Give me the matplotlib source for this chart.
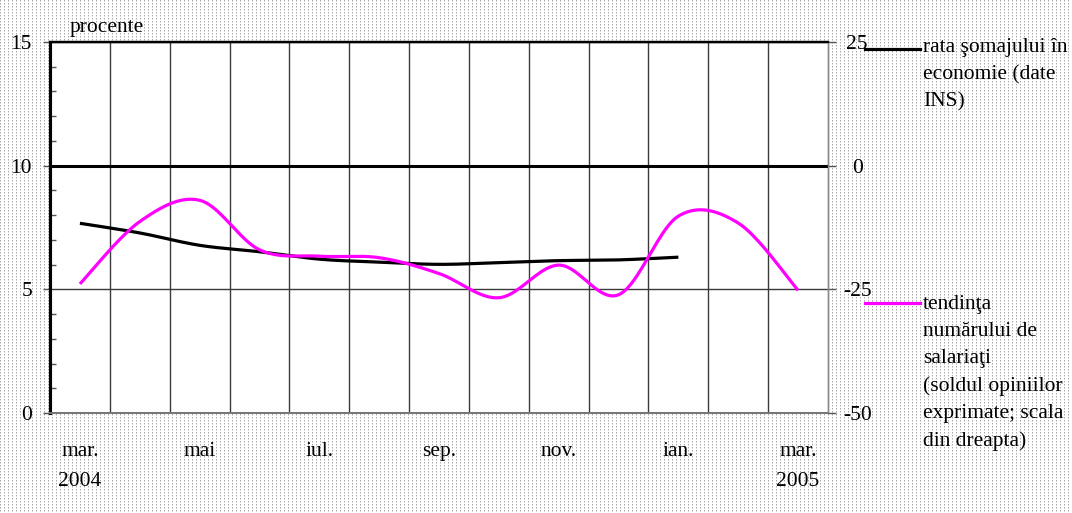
import numpy as np
import matplotlib
matplotlib.use('Agg')
import matplotlib.pyplot as plt
from matplotlib.lines import Line2D

plt.rcParams['font.family'] = ['Liberation Serif', 'DejaVu Serif']

# ── Data ──────────────────────────────────────────────────────────────────────
months = ['mar.', 'apr.', 'mai', 'iun.', 'iul.', 'aug.', 'sep.', 'oct.',
          'nov.', 'dec.', 'ian.', 'feb.', 'mar.']
tick_labels = ['mar.\n2004', '', 'mai', '', 'iul.', '', 'sep.', '', 'nov.', '',
               'ian.', '', 'mar.\n2005']
# unemployment rate (left scale, %), mar. 2004 - ian. 2005
unemp = [7.67, 7.28, 6.78, 6.52, 6.22, 6.10, 6.01, 6.08, 6.16, 6.19, 6.30]
# employment expectations balance (right scale), mar. 2004 - mar. 2005
employ = [-23.9, -11.3, -7.0, -17.0, -18.3, -18.6, -21.8, -26.7, -20.1,
          -26.1, -10.2, -11.6, -25.2]

left_ticks = [0, 5, 10, 15]
right_ticks = [-50, -25, 0, 25]

label_unemp = 'rata şomajului în\neconomie (date\nINS)'
label_employ = ('tendinţa\nnumărului de\nsalariaţi\n(soldul opiniilor\n'
                'exprimate; scala\ndin dreapta)')

MAGENTA = '#FF00FF'
FS = 15.5


def smooth(y, n=24):
    # Excel-style smoothed line (Catmull-Rom / Bezier through the points)
    y = np.asarray(y, float)
    x = np.arange(len(y), dtype=float)
    px = np.concatenate([[x[0]], x, [x[-1]]])
    py = np.concatenate([[y[0]], y, [y[-1]]])
    t = np.linspace(0, 1, n)[:, None]
    xs, ys = [], []
    for i in range(1, len(px) - 2):
        p0 = np.array([px[i - 1], py[i - 1]])
        p1 = np.array([px[i], py[i]])
        p2 = np.array([px[i + 1], py[i + 1]])
        p3 = np.array([px[i + 2], py[i + 2]])
        c1 = p1 + (p2 - p0) / 6
        c2 = p2 - (p3 - p1) / 6
        b = ((1 - t) ** 3 * p1 + 3 * (1 - t) ** 2 * t * c1
             + 3 * (1 - t) * t ** 2 * c2 + t ** 3 * p2)
        xs.append(b[:, 0]); ys.append(b[:, 1])
    return np.concatenate(xs), np.concatenate(ys)


W, H = 1072, 513
fig = plt.figure(figsize=(W / 100, H / 100), dpi=100)
fig.patch.set_facecolor('white')

# dotted background texture
bg = np.ones((H, W))
yy, xx = np.mgrid[0:H, 0:W]
bg[(xx % 4 == 0) & (yy % 3 == 0)] = 0.66
bg[(xx % 4 == 0) & (yy % 3 == 1)] = 0.84
fig.figimage(bg, cmap='gray', vmin=0, vmax=1, zorder=-10)

ax = fig.add_axes([50 / W, 1 - 413 / H, 778 / W, 371 / H])
ax.set_facecolor('white')
ax2 = ax.twinx()

n = len(months)
ax.set_xlim(-0.5, n - 0.5)
ax.set_ylim(0, 15)
ax2.set_ylim(-50, 25)

# category boundaries -> vertical grid
ax.set_xticks(np.arange(-0.5, n - 0.5, 1.0))
ax.set_xticklabels([])
ax.tick_params(axis='x', which='major', length=0)
ax.set_xticks(np.arange(n), minor=True)
ax.set_xticklabels(tick_labels, minor=True, fontsize=FS, linespacing=1.75)
ax.tick_params(axis='x', which='minor', length=0, pad=21)
ax.grid(True, axis='x', which='major', color='#3a3a3a', lw=1.0)

ax.set_yticks(left_ticks)
ax.set_yticklabels([str(v) for v in left_ticks], fontsize=FS)
ax.set_yticks(np.arange(0, 16, 1), minor=True)
ax.tick_params(axis='y', which='major', direction='out', length=5, width=1,
               color='#555555', pad=8)
ax.tick_params(axis='y', which='minor', direction='in', length=4, width=1,
               color='#555555')
ax.grid(True, axis='y', which='major', color='#3a3a3a', lw=1.0)
ax.axhline(10, color='black', lw=2.2, zorder=3)

ax2.set_yticks(right_ticks)
ax2.set_yticklabels([str(v) for v in right_ticks], fontsize=FS)
ax2.tick_params(axis='y', direction='out', length=6, width=1,
                color='#555555', pad=15)
for lab in ax2.get_yticklabels():
    lab.set_horizontalalignment('center')

for a in (ax, ax2):
    a.spines['left'].set_linewidth(2.2)
    a.spines['left'].set_color('black')
    a.spines['top'].set_linewidth(1.6)
    a.spines['top'].set_color('black')
    a.spines['bottom'].set_linewidth(1.4)
    a.spines['bottom'].set_color('#777777')
    a.spines['right'].set_linewidth(1.0)
    a.spines['right'].set_color('#888888')

xs, ys = smooth(unemp)
ax.plot(xs, ys, color='black', lw=2.3, solid_capstyle='butt', zorder=4)
xs, ys = smooth(employ)
ax2.plot(xs, ys, color=MAGENTA, lw=2.3, solid_capstyle='butt', zorder=4)

fig.text(70 / W, 1 - 32 / H, 'procente', fontsize=FS, va='baseline')

# legend at the right
fig.add_artist(Line2D([865 / W, 920 / W], [1 - 49 / H, 1 - 49 / H],
                      color='black', lw=2.3))
fig.text(923 / W, 1 - 38 / H, label_unemp, fontsize=FS, va='top',
         linespacing=1.55)
fig.add_artist(Line2D([865 / W, 920 / W], [1 - 303 / H, 1 - 303 / H],
                      color=MAGENTA, lw=2.3))
fig.text(923 / W, 1 - 295 / H, label_employ, fontsize=FS, va='top',
         linespacing=1.57)

plt.savefig('out.png', dpi=100)
